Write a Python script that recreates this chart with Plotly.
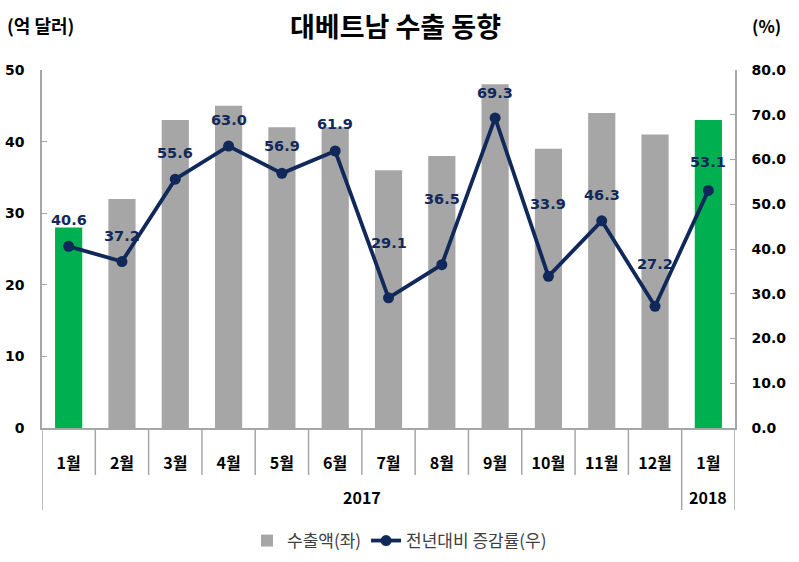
import plotly.graph_objects as go

months = ["1월", "2월", "3월", "4월", "5월", "6월", "7월", "8월", "9월", "10월", "11월", "12월", "1월"]
years = ["2017"] * 12 + ["2018"]
exports = [28, 32, 43, 45, 42, 42, 36, 38, 48, 39, 44, 41, 43]
growth = [40.6, 37.2, 55.6, 63.0, 56.9, 61.9, 29.1, 36.5, 69.3, 33.9, 46.3, 27.2, 53.1]
highlight = [True] + [False] * 11 + [True]
label_shift = [26, 26, 26, 26, 27, 27, 55, 66, 25, 72, 26, 42, 28]

GRAY = "#a6a6a6"
GREEN = "#00b050"
NAVY = "#10295a"
AXIS = "#a6a6a6"

idx = list(range(len(months)))
gray_vals = [None if h else v for v, h in zip(exports, highlight)]
green_vals = [v if h else None for v, h in zip(exports, highlight)]

fig = go.Figure()
fig.add_trace(go.Bar(x=idx, y=gray_vals, name="수출액(좌)",
                     marker=dict(color=GRAY, line=dict(width=0)), yaxis="y"))
fig.add_trace(go.Bar(x=idx, y=green_vals, name="수출액 강조", showlegend=False,
                     marker=dict(color=GREEN, line=dict(width=0)), yaxis="y"))
fig.add_trace(go.Scatter(
    x=idx, y=growth, name="전년대비 증감률(우)",
    mode="lines+markers",
    line=dict(color=NAVY, width=3.8),
    marker=dict(color=NAVY, size=11),
    yaxis="y2",
))

for i, (v, s) in enumerate(zip(growth, label_shift)):
    fig.add_annotation(
        x=i, y=v, yref="y2", xref="x",
        text=f"<b>{v:.1f}</b>", showarrow=False,
        yshift=s, font=dict(family="DejaVu Sans", size=14.5, color=NAVY),
    )

PLOT_H = 358.0
# month separators (short) and year-group dividers (long)
for i in range(len(months) + 1):
    xb = i - 0.5
    is_group_edge = (i == 0 or i == len(months) or years[i] != years[i - 1])
    length = 82 if is_group_edge else 47
    fig.add_shape(type="line", xref="x", yref="y domain",
                  x0=xb, x1=xb, y0=0, y1=-length / PLOT_H,
                  line=dict(color=AXIS, width=1.5))

# year group labels
groups = []
for i, yv in enumerate(years):
    if not groups or groups[-1][0] != yv:
        groups.append([yv, i, i])
    else:
        groups[-1][2] = i
for yv, a, b in groups:
    fig.add_annotation(x=(a + b) / 2, y=0, xref="x", yref="y domain",
                       yshift=-69, text=f"<b>{yv}</b>", showarrow=False,
                       yanchor="middle",
                       font=dict(family="Noto Sans CJK KR", size=16, color="black"))

W, H = 799, 562
fig.update_layout(
    width=W, height=H,
    margin=dict(l=42, r=64, t=70, b=134, autoexpand=False),
    paper_bgcolor="white", plot_bgcolor="white",
    barmode="overlay",
    bargap=0.49,
    showlegend=True,
    legend=dict(orientation="h", x=0.5, xanchor="center", xref="container",
                y=21 / H, yanchor="middle", yref="container",
                font=dict(family="Noto Sans CJK KR", size=17, color="#404040")),
    xaxis=dict(
        range=[-0.5, len(months) - 0.5],
        tickmode="array", tickvals=idx, ticktext=months,
        showline=True, linecolor=AXIS, linewidth=1.5,
        ticks="", ticklabelstandoff=20,
        tickfont=dict(family="Noto Sans CJK KR", size=16, color="black", weight="bold"),
        showgrid=False, zeroline=False, automargin=False,
    ),
    yaxis=dict(
        range=[0, 50], dtick=10, showgrid=False, zeroline=False,
        showline=True, linecolor=AXIS, linewidth=1.5,
        ticks="inside", ticklen=5, tickcolor=AXIS, ticklabelstandoff=13,
        tickfont=dict(family="DejaVu Sans", size=14, color="black", weight="bold"),
        automargin=False,
    ),
    yaxis2=dict(
        range=[0, 80], dtick=10, tickformat=".1f", overlaying="y", side="right",
        showgrid=False, zeroline=False,
        showline=True, linecolor=AXIS, linewidth=1.5,
        ticks="inside", ticklen=5, tickcolor=AXIS, ticklabelstandoff=12,
        tickfont=dict(family="DejaVu Sans", size=14, color="black", weight="bold"),
        automargin=False,
    ),
)

fig.add_annotation(text="<b>대베트남 수출 동향</b>", x=0.51, y=1.0, yshift=45,
                   xref="paper", yref="paper",
                   showarrow=False, yanchor="middle", xanchor="center",
                   font=dict(family="Noto Sans CJK KR", size=27, color="black"))
fig.add_annotation(text="<b>(억 달러)</b>", x=0, y=1.0, xref="paper", yref="paper",
                   xshift=-37, yshift=45, showarrow=False, xanchor="left", yanchor="middle",
                   font=dict(family="Noto Sans CJK KR", size=18, color="black"))
fig.add_annotation(text="<b>(%)</b>", x=1.0, y=1.0, xref="paper", yref="paper",
                   xshift=15, yshift=45, showarrow=False, xanchor="left", yanchor="middle",
                   font=dict(family="Noto Sans CJK KR", size=17, color="black"))

fig.write_html("out.html", config={"displayModeBar": False},
               post_script="document.body.style.margin='0';")
